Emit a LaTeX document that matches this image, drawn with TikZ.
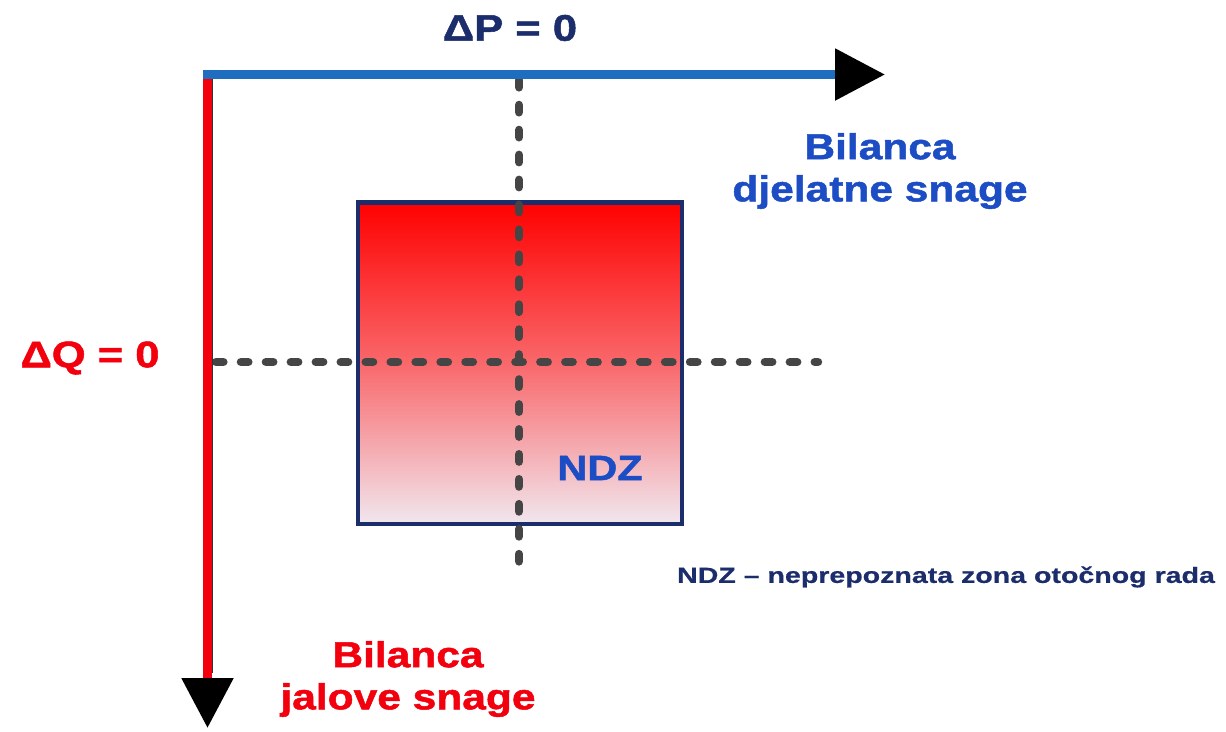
\documentclass[tikz,border=0pt]{standalone}
\usepackage{fontspec}
\setmainfont{Liberation Sans}
\newfontfamily\heavyfont{Liberation Sans}[FakeStretch=1.18, FakeBold=1.4]
\newfontfamily\widefont{Liberation Sans}[FakeStretch=1.3, FakeBold=0.6]
\usepackage{tikz}
\usetikzlibrary{arrows.meta,positioning}
\definecolor{navy}{HTML}{1B2D6B}
\definecolor{textblue}{HTML}{1C4DC4}
\definecolor{axisblue}{HTML}{1F6DBE}
\definecolor{axisred}{HTML}{F2000D}
\definecolor{dashgray}{HTML}{454545}
\definecolor{palepink}{HTML}{F1E7EE}

\begin{document}
\begin{tikzpicture}[
  x=0.02cm, y=-0.02cm,
  axis/.style={line width=5pt, -{Triangle[width=1cm, length=1cm, color=black]}},
  zero/.style={dash pattern=on 4.2pt off 10pt, line cap=round, line width=4.8pt, color=dashgray},
  ndzbox/.style={draw=navy, line width=2.8pt, minimum width=6.48cm, minimum height=6.44cm,
                 top color=red, bottom color=palepink, middle color=red!55!palepink},
  heading/.style={font=\heavyfont\fontsize{21}{25}\selectfont\bfseries, inner sep=0pt},
  balance/.style={font=\heavyfont\fontsize{20.5}{24}\selectfont\bfseries, align=center, inner sep=0pt},
  note/.style={font=\widefont\fontsize{12.5}{15}\selectfont\bfseries, text=navy, inner sep=0pt}
]
\useasboundingbox (0,0) rectangle (1226,731);

\coordinate (origin) at (207.5,74.5);
\coordinate (pend) at (885,74.5);
\coordinate (qend) at (207.5,728);

% NDZ square
\node[ndzbox] (ndz) at (520,363) {};
\node[font=\heavyfont\fontsize{20}{24}\selectfont\bfseries, text=textblue, inner sep=0pt] (ndzlabel) at (600,468) {NDZ};

% zero lines
\coordinate (ptop) at (519,80);
\coordinate (pbot) at (519,577);
\coordinate (qleft) at (216,362);
\coordinate (qright) at (818,362);
\draw[zero] (ptop) -- (pbot);
\draw[zero] (qleft) -- (qright);

% axes
\draw[line width=1.5pt, black!80] ([xshift=0.09cm, yshift=-0.05cm]origin) -- ([xshift=0.09cm, yshift=1.1cm]qend);
\draw[axis, axisred] ([yshift=0.09cm]origin) -- (qend);
\draw[axis, axisblue] ([xshift=-0.09cm]origin) -- (pend);

% labels
\node[heading, text=navy] (dp) at (510,28) {ΔP = 0};
\node[heading, text=axisred] (dq) at (90,358) {ΔQ = 0};
\node[balance, text=textblue] (pbal) at (880,171) {Bilanca\\djelatne snage};
\node[balance, text=axisred] (qbal) at (408,679) {Bilanca\\jalove snage};
\node[note] (legend) at (946,577) {NDZ – neprepoznata zona otočnog rada};

\end{tikzpicture}
\end{document}
